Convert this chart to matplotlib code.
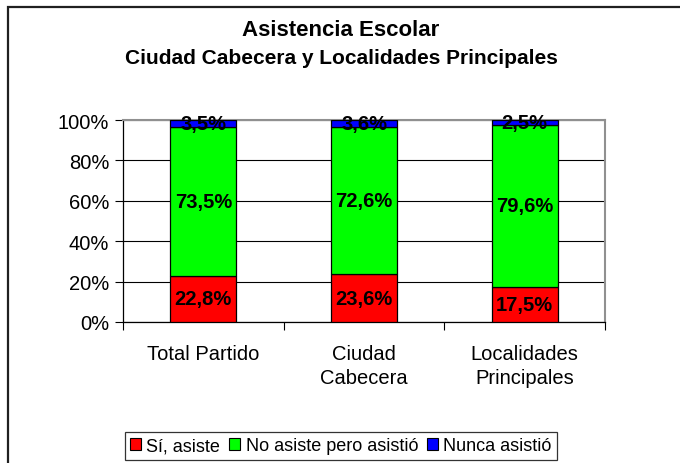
import numpy as np
import matplotlib
matplotlib.use('Agg')
import matplotlib.pyplot as plt
from matplotlib.patches import Patch, Rectangle

plt.rcParams['font.family'] = ['Liberation Sans', 'DejaVu Sans']

# datos
categorias = ['Total Partido', 'Ciudad\nCabecera', 'Localidades\nPrincipales']
si_asiste = [22.8, 23.6, 17.5]
no_asiste_asistio = [73.5, 72.6, 79.6]
nunca_asistio = [3.5, 3.6, 2.5]
series = [('Sí, asiste', si_asiste, '#FF0000'),
          ('No asiste pero asistió', no_asiste_asistio, '#00FF00'),
          ('Nunca asistió', nunca_asistio, '#0000FF')]

fig = plt.figure(figsize=(6.8, 4.64), dpi=100)
ax = fig.add_axes([0.1809, 0.3039, 0.7088, 0.4353])

# marco exterior
fig.patches.append(Rectangle((8 / 680, -0.1), 1.2, 1 - 8 / 464 + 0.1,
                             transform=fig.transFigure, fill=False,
                             edgecolor='#202020', linewidth=1.6))

x = np.arange(len(categorias))
totales = np.array(si_asiste) + np.array(no_asiste_asistio) + np.array(nunca_asistio)
base = np.zeros(len(categorias))
for nombre, vals, color in series:
    alto = np.array(vals) / totales * 100
    ax.bar(x, alto, 0.41, bottom=base, color=color, edgecolor='black',
           linewidth=0.9, zorder=3)
    for xi, b, h, v in zip(x, base, alto, vals):
        ax.text(xi, b + h / 2, f'{v:.1f}%'.replace('.', ','), ha='center',
                va='center', fontsize=14.5, fontweight='bold', zorder=4)
    base += alto

ax.set_xlim(-0.5, 2.5)
ax.set_ylim(0, 100)
ax.set_yticks(np.arange(0, 101, 20))
ax.set_yticklabels([f'{v}%' for v in range(0, 101, 20)], fontsize=14.5)
ax.yaxis.grid(True, color='black', linewidth=0.8, zorder=0)
ax.set_xticks(x)
ax.set_xticklabels(categorias, fontsize=14.5, linespacing=1.3)
ax.set_xticks([-0.5, 0.5, 1.5, 2.5], minor=True)
ax.tick_params(axis='x', which='major', length=0, pad=16)
ax.tick_params(axis='x', which='minor', length=6, width=0.8, direction='out')
ax.tick_params(axis='y', length=6, width=0.8, direction='out', pad=4)

for s in ['left', 'bottom']:
    ax.spines[s].set_color('black')
    ax.spines[s].set_linewidth(0.9)
for s in ['top', 'right']:
    ax.spines[s].set_color('#909090')
    ax.spines[s].set_linewidth(1.5)

fig.text(0.5015, 1 - 31 / 464, 'Asistencia Escolar', ha='center', va='center',
         fontsize=16, fontweight='bold')
fig.text(0.5015, 1 - 58 / 464, 'Ciudad Cabecera y Localidades Principales',
         ha='center', va='center', fontsize=15, fontweight='bold')

handles = [Patch(facecolor=c, edgecolor='black', linewidth=0.8, label=n)
           for n, _, c in series]
leg = fig.legend(handles=handles, loc='center', bbox_to_anchor=(0.5015, 1 - 447 / 464),
                 ncol=3, fontsize=13, frameon=True, fancybox=False,
                 handlelength=0.6, handleheight=0.6, handletextpad=0.3,
                 columnspacing=0.5, borderpad=0.3, borderaxespad=0)
leg.get_frame().set_edgecolor('black')
leg.get_frame().set_linewidth(0.9)

fig.savefig('out.png', dpi=100)
